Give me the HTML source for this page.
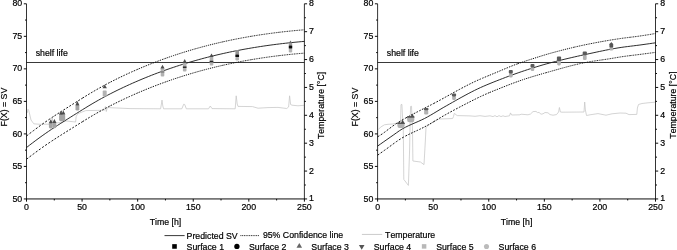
<!DOCTYPE html><html><head><meta charset="utf-8"><style>html,body{margin:0;padding:0;background:#fff;}body{width:677px;height:250px;overflow:hidden;position:relative;font-family:"Liberation Sans",sans-serif;}</style></head><body><svg width="677" height="250" viewBox="0 0 677 250" style="position:absolute;left:0;top:0;filter:grayscale(1);font-kerning:none;font-variant-ligatures:none" font-family="Liberation Sans, sans-serif">
<style>text{stroke:#000;stroke-width:0.2px;fill:#000}</style>
<rect width="677" height="250" fill="#fff"/>
<path d="M27.2,113.0 L28.0,109.3 L28.8,110.5 L29.6,114.0 L31.0,120.0 L33.8,123.8 L40.0,124.3 L48.0,124.2 L51.6,124.0 L52.2,118.0 L53.0,123.5 L60.0,122.5 L66.6,121.0 L73.8,121.8 L75.6,122.0 L76.2,116.4 L77.6,113.8 L82.0,112.0 L85.8,110.6 L97.8,110.4 L104.5,110.2 L105.4,106.5 L106.3,111.5 L107.3,107.5 L110.0,107.7 L130.0,108.6 L160.6,108.8 L161.4,104.0 L162.0,100.1 L162.8,106.0 L163.6,108.8 L181.8,108.8 L183.0,106.0 L183.6,104.3 L184.6,104.4 L185.3,106.0 L186.3,108.8 L208.5,108.8 L210.3,106.0 L212.0,108.6 L235.2,108.8 L236.2,95.8 L237.2,104.0 L238.0,106.4 L252.5,106.6 L258.0,108.2 L268.0,107.6 L278.0,107.4 L286.7,108.5 L288.6,107.0 L289.6,95.8 L290.6,104.5 L292.0,105.2 L298.0,105.8 L304.0,105.3" fill="none" stroke="#c6c6c6" stroke-width="0.75" stroke-linejoin="round"/>
<line x1="26.5" y1="62.5" x2="304.4" y2="62.5" stroke="#222" stroke-width="0.9"/>
<path d="M26.50,136.01 L28.84,134.19 L31.17,132.39 L33.51,130.62 L35.84,128.87 L38.18,127.14 L40.51,125.44 L42.85,123.77 L45.18,122.12 L47.52,120.50 L49.85,118.91 L52.19,117.34 L54.52,115.80" fill="none" stroke="#0a0a0a" stroke-width="0.95" stroke-dasharray="2.18 1.71"/><path d="M54.52,115.80 L56.86,114.28 L59.19,112.77 L61.53,111.28 L63.86,109.80 L66.20,108.33 L68.54,106.86 L70.87,105.39 L73.21,103.92 L75.54,102.46 L77.88,100.99 L80.21,99.53 L82.55,98.07" fill="none" stroke="#0a0a0a" stroke-width="0.95" stroke-dasharray="1.97 1.55"/><path d="M82.55,98.07 L84.88,96.62 L87.22,95.19 L89.55,93.77 L91.89,92.37 L94.22,91.00 L96.56,89.65 L98.89,88.32 L101.23,87.02 L103.56,85.74 L105.90,84.48 L108.24,83.25 L110.57,82.04" fill="none" stroke="#0a0a0a" stroke-width="0.95" stroke-dasharray="1.83 1.44"/><path d="M110.57,82.04 L112.91,80.85 L115.24,79.68 L117.58,78.53 L119.91,77.39 L122.25,76.28 L124.58,75.18 L126.92,74.09 L129.25,73.03 L131.59,71.97 L133.92,70.94 L136.26,69.91 L138.59,68.91" fill="none" stroke="#0a0a0a" stroke-width="0.95" stroke-dasharray="1.60 1.25"/><path d="M138.59,68.91 L140.93,67.92 L143.26,66.94 L145.60,65.98 L147.94,65.03 L150.27,64.10 L152.61,63.18 L154.94,62.28 L157.28,61.39 L159.61,60.51 L161.95,59.65 L164.28,58.81 L166.62,57.97" fill="none" stroke="#0a0a0a" stroke-width="0.95" stroke-dasharray="1.42 1.11"/><path d="M166.62,57.97 L168.95,57.15 L171.29,56.35 L173.62,55.56 L175.96,54.78 L178.29,54.01 L180.63,53.26 L182.96,52.52 L185.30,51.80 L187.64,51.08 L189.97,50.38 L192.31,49.70 L194.64,49.02" fill="none" stroke="#0a0a0a" stroke-width="0.95" stroke-dasharray="1.25 0.99"/><path d="M194.64,49.02 L196.98,48.36 L199.31,47.71 L201.65,47.07 L203.98,46.45 L206.32,45.84 L208.65,45.24 L210.99,44.65 L213.32,44.07 L215.66,43.51 L217.99,42.95 L220.33,42.41 L222.66,41.88" fill="none" stroke="#0a0a0a" stroke-width="0.95" stroke-dasharray="1.11 0.87"/><path d="M222.66,41.88 L225.00,41.36 L227.34,40.86 L229.67,40.36 L232.01,39.88 L234.34,39.40 L236.68,38.94 L239.01,38.49 L241.35,38.04 L243.68,37.61 L246.02,37.19 L248.35,36.78 L250.69,36.38" fill="none" stroke="#0a0a0a" stroke-width="0.95" stroke-dasharray="0.97 0.76"/><path d="M250.69,36.38 L253.02,35.99 L255.36,35.61 L257.69,35.24 L260.03,34.88 L262.36,34.53 L264.70,34.19 L267.04,33.86 L269.37,33.54 L271.71,33.22 L274.04,32.92 L276.38,32.63 L278.71,32.34" fill="none" stroke="#0a0a0a" stroke-width="0.95" stroke-dasharray="0.95 0.75"/><path d="M278.71,32.34 L281.05,32.07 L283.38,31.80 L285.72,31.54 L288.05,31.29 L290.39,31.05 L292.72,30.82 L295.06,30.59 L297.39,30.38 L299.73,30.17 L302.06,29.97 L304.40,29.78" fill="none" stroke="#0a0a0a" stroke-width="0.95" stroke-dasharray="0.95 0.75"/>
<path d="M26.50,159.24 L28.84,157.45 L31.17,155.67 L33.51,153.92 L35.84,152.18 L38.18,150.48 L40.51,148.80 L42.85,147.14 L45.18,145.51 L47.52,143.91 L49.85,142.33 L52.19,140.78 L54.52,139.25" fill="none" stroke="#0a0a0a" stroke-width="0.95" stroke-dasharray="2.16 1.70"/><path d="M54.52,139.25 L56.86,137.74 L59.19,136.25 L61.53,134.77 L63.86,133.30 L66.20,131.84 L68.54,130.38 L70.87,128.93 L73.21,127.47 L75.54,126.01 L77.88,124.55 L80.21,123.10 L82.55,121.65" fill="none" stroke="#0a0a0a" stroke-width="0.95" stroke-dasharray="1.96 1.54"/><path d="M82.55,121.65 L84.88,120.21 L87.22,118.78 L89.55,117.37 L91.89,115.98 L94.22,114.61 L96.56,113.26 L98.89,111.94 L101.23,110.64 L103.56,109.36 L105.90,108.11 L108.24,106.88 L110.57,105.67" fill="none" stroke="#0a0a0a" stroke-width="0.95" stroke-dasharray="1.83 1.44"/><path d="M110.57,105.67 L112.91,104.49 L115.24,103.32 L117.58,102.17 L119.91,101.03 L122.25,99.92 L124.58,98.82 L126.92,97.73 L129.25,96.66 L131.59,95.61 L133.92,94.57 L136.26,93.55 L138.59,92.54" fill="none" stroke="#0a0a0a" stroke-width="0.95" stroke-dasharray="1.60 1.25"/><path d="M138.59,92.54 L140.93,91.54 L143.26,90.57 L145.60,89.60 L147.94,88.65 L150.27,87.72 L152.61,86.79 L154.94,85.89 L157.28,84.99 L159.61,84.11 L161.95,83.25 L164.28,82.40 L166.62,81.56" fill="none" stroke="#0a0a0a" stroke-width="0.95" stroke-dasharray="1.42 1.12"/><path d="M166.62,81.56 L168.95,80.74 L171.29,79.93 L173.62,79.13 L175.96,78.34 L178.29,77.57 L180.63,76.82 L182.96,76.07 L185.30,75.34 L187.64,74.62 L189.97,73.92 L192.31,73.22 L194.64,72.54" fill="none" stroke="#0a0a0a" stroke-width="0.95" stroke-dasharray="1.26 0.99"/><path d="M194.64,72.54 L196.98,71.88 L199.31,71.22 L201.65,70.58 L203.98,69.95 L206.32,69.33 L208.65,68.72 L210.99,68.13 L213.32,67.55 L215.66,66.97 L217.99,66.42 L220.33,65.87 L222.66,65.33" fill="none" stroke="#0a0a0a" stroke-width="0.95" stroke-dasharray="1.11 0.87"/><path d="M222.66,65.33 L225.00,64.81 L227.34,64.29 L229.67,63.79 L232.01,63.30 L234.34,62.82 L236.68,62.35 L239.01,61.89 L241.35,61.45 L243.68,61.01 L246.02,60.59 L248.35,60.17 L250.69,59.77" fill="none" stroke="#0a0a0a" stroke-width="0.95" stroke-dasharray="0.98 0.77"/><path d="M250.69,59.77 L253.02,59.37 L255.36,58.99 L257.69,58.61 L260.03,58.25 L262.36,57.89 L264.70,57.55 L267.04,57.21 L269.37,56.89 L271.71,56.57 L274.04,56.27 L276.38,55.97 L278.71,55.69" fill="none" stroke="#0a0a0a" stroke-width="0.95" stroke-dasharray="0.95 0.75"/><path d="M278.71,55.69 L281.05,55.41 L283.38,55.14 L285.72,54.88 L288.05,54.63 L290.39,54.39 L292.72,54.15 L295.06,53.93 L297.39,53.71 L299.73,53.51 L302.06,53.31 L304.40,53.12" fill="none" stroke="#0a0a0a" stroke-width="0.95" stroke-dasharray="0.95 0.75"/>
<path d="M26.50,147.55 L29.62,145.12 L32.74,142.74 L35.87,140.39 L38.99,138.09 L42.11,135.84 L45.23,133.63 L48.36,131.48 L51.48,129.37 L54.60,127.30 L57.72,125.27 L60.85,123.28 L63.97,121.30 L67.09,119.33 L70.21,117.37 L73.34,115.42 L76.46,113.46 L79.58,111.50 L82.70,109.56 L85.83,107.63 L88.95,105.73 L92.07,103.86 L95.19,102.04 L98.32,100.25 L101.44,98.51 L104.56,96.82 L107.68,95.16 L110.81,93.55 L113.93,91.97 L117.05,90.42 L120.17,88.91 L123.30,87.43 L126.42,85.97 L129.54,84.55 L132.66,83.15 L135.79,81.79 L138.91,80.44 L142.03,79.13 L145.15,77.84 L148.28,76.58 L151.40,75.34 L154.52,74.13 L157.64,72.95 L160.77,71.79 L163.89,70.65 L167.01,69.54 L170.13,68.46 L173.26,67.40 L176.38,66.36 L179.50,65.35 L182.62,64.36 L185.75,63.39 L188.87,62.45 L191.99,61.52 L195.11,60.63 L198.24,59.75 L201.36,58.90 L204.48,58.06 L207.60,57.25 L210.73,56.46 L213.85,55.69 L216.97,54.94 L220.09,54.22 L223.22,53.51 L226.34,52.82 L229.46,52.15 L232.58,51.51 L235.71,50.88 L238.83,50.27 L241.95,49.67 L245.07,49.10 L248.20,48.55 L251.32,48.01 L254.44,47.49 L257.56,46.99 L260.69,46.50 L263.81,46.04 L266.93,45.58 L270.05,45.15 L273.18,44.73 L276.30,44.33 L279.42,43.94 L282.54,43.57 L285.67,43.22 L288.79,42.87 L291.91,42.55 L295.03,42.24 L298.16,41.94 L301.28,41.65 L304.40,41.38" fill="none" stroke="#222" stroke-width="0.95"/>
<rect x="48.90" y="122.90" width="3.80" height="5.50" fill="#a4a4a4" rx="1.4"/><path d="M48.70,123.20 L52.90,123.20 L50.80,119.20Z" fill="#4c4c4c"/>
<rect x="52.50" y="122.70" width="3.80" height="5.50" fill="#a4a4a4" rx="1.4"/><path d="M52.30,123.00 L56.50,123.00 L54.40,119.00Z" fill="#4c4c4c"/>
<rect x="59.10" y="114.50" width="3.80" height="6.70" fill="#a4a4a4" rx="1.4"/><path d="M58.90,114.80 L63.10,114.80 L61.00,110.80Z" fill="#4c4c4c"/>
<rect x="61.40" y="114.30" width="3.80" height="6.70" fill="#a4a4a4" rx="1.4"/><path d="M61.20,114.60 L65.40,114.60 L63.30,110.60Z" fill="#4c4c4c"/>
<rect x="75.50" y="105.20" width="3.80" height="5.40" fill="#a4a4a4" rx="1.4"/><path d="M75.30,105.50 L79.50,105.50 L77.40,101.00Z" fill="#4c4c4c"/>
<rect x="102.70" y="90.60" width="4.00" height="6.00" fill="#b2b2b2" rx="0.8"/><path d="M102.50,88.20 L106.90,88.20 L104.70,84.40Z" fill="#4c4c4c"/>
<rect x="160.70" y="68.20" width="3.60" height="8.30" fill="#b2b2b2" rx="1.0"/><rect x="160.70" y="71.30" width="3.60" height="1.30" fill="#7a7a7a" rx="0"/><path d="M160.40,68.50 L164.60,68.50 L162.50,64.80Z" fill="#4c4c4c"/>
<rect x="182.90" y="62.70" width="3.60" height="8.80" fill="#b2b2b2" rx="1.0"/><rect x="182.90" y="66.50" width="3.60" height="1.40" fill="#222" rx="0"/><path d="M182.60,63.00 L186.80,63.00 L184.70,59.00Z" fill="#4c4c4c"/>
<rect x="209.70" y="56.70" width="3.60" height="8.80" fill="#b2b2b2" rx="1.0"/><rect x="209.70" y="60.80" width="3.60" height="1.50" fill="#222" rx="0"/><path d="M209.40,57.00 L213.60,57.00 L211.50,53.50Z" fill="#4c4c4c"/>
<rect x="235.40" y="56.70" width="3.60" height="3.80" fill="#b2b2b2" rx="1.2"/><rect x="235.40" y="50.00" width="3.60" height="4.80" fill="#939393" rx="1.4"/><rect x="235.35" y="54.50" width="3.70" height="2.50" fill="#0a0a0a" rx="0"/>
<rect x="288.80" y="48.20" width="3.40" height="4.20" fill="#b2b2b2" rx="1.2"/><rect x="288.80" y="42.30" width="3.40" height="3.50" fill="#9a9a9a" rx="1.4"/><path d="M288.90,42.90 L292.10,42.90 L290.50,40.50Z" fill="#6a6a6a"/><rect x="288.75" y="45.50" width="3.50" height="3.00" fill="#0a0a0a" rx="0"/>
<path d="M26.5,3.8 V198.95 M304.4,198.95 V3.8" fill="none" stroke="#000" stroke-width="0.8"/>
<path d="M26.1,198.95 H304.79999999999995 M23.80,198.95 H26.5 M25.00,182.69 H26.5 M23.80,166.42 H26.5 M25.00,150.16 H26.5 M23.80,133.90 H26.5 M25.00,117.64 H26.5 M23.80,101.38 H26.5 M25.00,85.11 H26.5 M23.80,68.85 H26.5 M25.00,52.59 H26.5 M23.80,36.33 H26.5 M25.00,20.06 H26.5 M23.80,3.80 H26.5 M26.50,198.95 v2.7 M54.29,198.95 v1.5 M82.08,198.95 v2.7 M109.87,198.95 v1.5 M137.66,198.95 v2.7 M165.45,198.95 v1.5 M193.24,198.95 v2.7 M221.03,198.95 v1.5 M248.82,198.95 v2.7 M276.61,198.95 v1.5 M304.40,198.95 v2.7 M304.4,198.95 h2.7 M304.4,185.01 h1.5 M304.4,171.07 h2.7 M304.4,157.13 h1.5 M304.4,143.19 h2.7 M304.4,129.25 h1.5 M304.4,115.31 h2.7 M304.4,101.38 h1.5 M304.4,87.44 h2.7 M304.4,73.50 h1.5 M304.4,59.56 h2.7 M304.4,45.62 h1.5 M304.4,31.68 h2.7 M304.4,17.74 h1.5 M304.4,3.80 h2.7" fill="none" stroke="#000" stroke-width="0.95"/>
<text x="22.20" y="201.55" font-size="8.8" text-anchor="end">50</text>
<text x="22.20" y="169.02" font-size="8.8" text-anchor="end">55</text>
<text x="22.20" y="136.50" font-size="8.8" text-anchor="end">60</text>
<text x="22.20" y="103.97" font-size="8.8" text-anchor="end">65</text>
<text x="22.20" y="71.45" font-size="8.8" text-anchor="end">70</text>
<text x="22.20" y="38.93" font-size="8.8" text-anchor="end">75</text>
<text x="22.20" y="6.40" font-size="8.8" text-anchor="end">80</text>
<text x="26.50" y="210.1" font-size="8.8" text-anchor="middle">0</text>
<text x="82.08" y="210.1" font-size="8.8" text-anchor="middle">50</text>
<text x="137.66" y="210.1" font-size="8.8" text-anchor="middle">100</text>
<text x="193.24" y="210.1" font-size="8.8" text-anchor="middle">150</text>
<text x="248.82" y="210.1" font-size="8.8" text-anchor="middle">200</text>
<text x="304.40" y="210.1" font-size="8.8" text-anchor="middle">250</text>
<text x="309.10" y="201.45" font-size="8.8">1</text>
<text x="309.10" y="173.57" font-size="8.8">2</text>
<text x="309.10" y="145.69" font-size="8.8">3</text>
<text x="309.10" y="117.81" font-size="8.8">4</text>
<text x="309.10" y="89.94" font-size="8.8">5</text>
<text x="309.10" y="62.06" font-size="8.8">6</text>
<text x="309.10" y="34.18" font-size="8.8">7</text>
<text x="309.10" y="6.30" font-size="8.8">8</text>
<text x="165.45" y="224.6" font-size="8.75" text-anchor="middle">Time [h]</text>
<text transform="translate(6.80,107.1) rotate(-90)" font-size="8.75" text-anchor="middle">F(X) = SV</text>
<text transform="translate(324.00,105.4) rotate(-90)" font-size="8.75" text-anchor="middle">Temperature [°C]</text>
<text x="35.70" y="55.5" font-size="8.75">shelf life</text>
<path d="M378.4,129.5 L380.5,127.2 L384.4,124.8 L388.0,124.3 L392.8,124.0 L396.0,123.4 L399.0,122.6 L400.6,122.0 L401.0,104.6 L401.9,104.4 L402.6,118.0 L403.3,130.0 L403.8,179.4 L408.4,185.4 L409.6,150.0 L410.2,118.0 L410.6,106.4 L411.5,106.2 L412.0,118.0 L412.5,130.0 L412.9,161.0 L420.4,162.0 L424.0,164.6 L425.4,140.0 L426.0,127.5 L428.0,125.6 L432.0,122.8 L436.0,120.4 L439.0,119.0 L446.0,118.8 L452.6,118.5 L453.5,116.5 L454.3,113.4 L457.2,115.6 L470.0,115.9 L475.0,116.3 L480.0,115.7 L485.0,116.4 L490.0,115.8 L493.0,116.6 L495.0,115.6 L497.0,116.8 L499.0,115.6 L501.0,116.6 L503.0,115.8 L505.0,116.5 L509.5,115.8 L510.5,112.9 L511.6,115.0 L520.0,114.8 L521.0,114.2 L528.0,114.8 L530.5,114.0 L533.0,111.6 L536.0,111.4 L537.5,112.6 L539.0,112.4 L541.0,114.2 L543.0,113.8 L545.0,112.5 L548.0,112.8 L550.0,114.6 L553.0,115.2 L556.5,114.6 L558.6,112.0 L559.4,107.5 L560.4,112.0 L562.0,112.2 L584.0,112.0 L584.7,102.0 L585.4,110.0 L586.5,115.5 L590.0,114.8 L598.0,113.6 L602.0,114.4 L606.0,115.2 L612.0,113.8 L620.0,113.0 L626.0,113.2 L629.0,114.6 L636.8,114.4 L637.4,108.0 L638.5,104.5 L642.0,103.5 L648.0,102.8 L655.0,102.2" fill="none" stroke="#c6c6c6" stroke-width="0.75" stroke-linejoin="round"/>
<line x1="377.6" y1="62.5" x2="655.5" y2="62.5" stroke="#222" stroke-width="0.9"/>
<path d="M377.60,136.80 L379.94,135.40 L382.27,133.89 L384.61,132.22 L386.94,130.43 L389.28,128.64 L391.61,126.91 L393.95,125.21 L396.28,123.62 L398.62,122.14 L400.95,120.75 L403.29,119.40 L405.62,118.09" fill="none" stroke="#0a0a0a" stroke-width="0.95" stroke-dasharray="2.05 1.61"/><path d="M405.62,118.09 L407.96,116.80 L410.29,115.54 L412.63,114.30 L414.96,113.08 L417.30,111.88 L419.64,110.68 L421.97,109.49 L424.31,108.30 L426.64,107.12 L428.98,105.92 L431.31,104.72 L433.65,103.51" fill="none" stroke="#0a0a0a" stroke-width="0.95" stroke-dasharray="1.72 1.35"/><path d="M433.65,103.51 L435.98,102.28 L438.32,101.03 L440.65,99.77 L442.99,98.49 L445.32,97.20 L447.66,95.91 L449.99,94.62 L452.33,93.32 L454.66,92.03 L457.00,90.75 L459.34,89.48 L461.67,88.22" fill="none" stroke="#0a0a0a" stroke-width="0.95" stroke-dasharray="1.77 1.39"/><path d="M461.67,88.22 L464.01,86.99 L466.34,85.77 L468.68,84.58 L471.01,83.41 L473.35,82.28 L475.68,81.18 L478.02,80.12 L480.35,79.10 L482.69,78.10 L485.02,77.12 L487.36,76.15 L489.69,75.19" fill="none" stroke="#0a0a0a" stroke-width="0.95" stroke-dasharray="1.59 1.25"/><path d="M489.69,75.19 L492.03,74.23 L494.36,73.26 L496.70,72.29 L499.04,71.30 L501.37,70.31 L503.71,69.32 L506.04,68.34 L508.38,67.37 L510.71,66.42 L513.05,65.50 L515.38,64.60 L517.72,63.74" fill="none" stroke="#0a0a0a" stroke-width="0.95" stroke-dasharray="1.46 1.15"/><path d="M517.72,63.74 L520.05,62.91 L522.39,62.10 L524.72,61.32 L527.06,60.55 L529.39,59.79 L531.73,59.04 L534.06,58.30 L536.40,57.55 L538.74,56.81 L541.07,56.07 L543.41,55.34 L545.74,54.63" fill="none" stroke="#0a0a0a" stroke-width="0.95" stroke-dasharray="1.27 1.00"/><path d="M545.74,54.63 L548.08,53.94 L550.41,53.29 L552.75,52.65 L555.08,52.02 L557.42,51.39 L559.75,50.78 L562.09,50.18 L564.42,49.58 L566.76,49.00 L569.09,48.42 L571.43,47.86 L573.76,47.30" fill="none" stroke="#0a0a0a" stroke-width="0.95" stroke-dasharray="1.12 0.88"/><path d="M573.76,47.30 L576.10,46.76 L578.44,46.23 L580.77,45.72 L583.11,45.21 L585.44,44.72 L587.78,44.24 L590.11,43.77 L592.45,43.32 L594.78,42.87 L597.12,42.43 L599.45,42.00 L601.79,41.57" fill="none" stroke="#0a0a0a" stroke-width="0.95" stroke-dasharray="0.99 0.78"/><path d="M601.79,41.57 L604.12,41.16 L606.46,40.76 L608.79,40.36 L611.13,39.98 L613.46,39.60 L615.80,39.24 L618.14,38.88 L620.47,38.53 L622.81,38.20 L625.14,37.90 L627.48,37.60 L629.81,37.32" fill="none" stroke="#0a0a0a" stroke-width="0.95" stroke-dasharray="0.95 0.75"/><path d="M629.81,37.32 L632.15,37.03 L634.48,36.74 L636.82,36.44 L639.15,36.12 L641.49,35.78 L643.82,35.43 L646.16,35.06 L648.49,34.69 L650.83,34.30 L653.16,33.90 L655.50,33.50" fill="none" stroke="#0a0a0a" stroke-width="0.95" stroke-dasharray="0.95 0.75"/>
<path d="M377.60,155.20 L379.94,153.54 L382.27,151.88 L384.61,150.23 L386.94,148.57 L389.28,146.86 L391.61,145.13 L393.95,143.41 L396.28,141.73 L398.62,140.13 L400.95,138.63 L403.29,137.26 L405.62,135.99" fill="none" stroke="#0a0a0a" stroke-width="0.95" stroke-dasharray="2.09 1.65"/><path d="M405.62,135.99 L407.96,134.80 L410.29,133.67 L412.63,132.57 L414.96,131.50 L417.30,130.43 L419.64,129.34 L421.97,128.21 L424.31,127.03 L426.64,125.78 L428.98,124.47 L431.31,123.11 L433.65,121.72" fill="none" stroke="#0a0a0a" stroke-width="0.95" stroke-dasharray="1.69 1.33"/><path d="M433.65,121.72 L435.98,120.32 L438.32,118.91 L440.65,117.51 L442.99,116.15 L445.32,114.82 L447.66,113.52 L449.99,112.24 L452.33,110.98 L454.66,109.73 L457.00,108.50 L459.34,107.28 L461.67,106.06" fill="none" stroke="#0a0a0a" stroke-width="0.95" stroke-dasharray="1.80 1.42"/><path d="M461.67,106.06 L464.01,104.84 L466.34,103.63 L468.68,102.42 L471.01,101.23 L473.35,100.06 L475.68,98.90 L478.02,97.76 L480.35,96.64 L482.69,95.55 L485.02,94.49 L487.36,93.46 L489.69,92.47" fill="none" stroke="#0a0a0a" stroke-width="0.95" stroke-dasharray="1.63 1.28"/><path d="M489.69,92.47 L492.03,91.50 L494.36,90.55 L496.70,89.62 L499.04,88.69 L501.37,87.75 L503.71,86.83 L506.04,85.91 L508.38,85.00 L510.71,84.10 L513.05,83.22 L515.38,82.36 L517.72,81.51" fill="none" stroke="#0a0a0a" stroke-width="0.95" stroke-dasharray="1.42 1.11"/><path d="M517.72,81.51 L520.05,80.68 L522.39,79.87 L524.72,79.09 L527.06,78.34 L529.39,77.60 L531.73,76.87 L534.06,76.17 L536.40,75.47 L538.74,74.79 L541.07,74.11 L543.41,73.45 L545.74,72.79" fill="none" stroke="#0a0a0a" stroke-width="0.95" stroke-dasharray="1.24 0.97"/><path d="M545.74,72.79 L548.08,72.13 L550.41,71.47 L552.75,70.80 L555.08,70.14 L557.42,69.48 L559.75,68.82 L562.09,68.17 L564.42,67.53 L566.76,66.89 L569.09,66.28 L571.43,65.67 L573.76,65.09" fill="none" stroke="#0a0a0a" stroke-width="0.95" stroke-dasharray="1.15 0.91"/><path d="M573.76,65.09 L576.10,64.52 L578.44,63.98 L580.77,63.46 L583.11,62.97 L585.44,62.51 L587.78,62.07 L590.11,61.67 L592.45,61.29 L594.78,60.94 L597.12,60.59 L599.45,60.26 L601.79,59.93" fill="none" stroke="#0a0a0a" stroke-width="0.95" stroke-dasharray="0.95 0.75"/><path d="M601.79,59.93 L604.12,59.59 L606.46,59.25 L608.79,58.89 L611.13,58.52 L613.46,58.12 L615.80,57.71 L618.14,57.31 L620.47,56.93 L622.81,56.58 L625.14,56.26 L627.48,55.95 L629.81,55.66" fill="none" stroke="#0a0a0a" stroke-width="0.95" stroke-dasharray="0.95 0.75"/><path d="M629.81,55.66 L632.15,55.37 L634.48,55.09 L636.82,54.80 L639.15,54.51 L641.49,54.21 L643.82,53.91 L646.16,53.61 L648.49,53.31 L650.83,53.00 L653.16,52.70 L655.50,52.40" fill="none" stroke="#0a0a0a" stroke-width="0.95" stroke-dasharray="0.95 0.75"/>
<path d="M377.60,146.10 L380.72,143.89 L383.84,141.69 L386.97,139.50 L390.09,137.32 L393.21,135.15 L396.33,132.93 L399.46,130.71 L402.58,128.77 L405.70,127.10 L408.82,125.59 L411.95,124.18 L415.07,122.82 L418.19,121.47 L421.31,120.06 L424.44,118.55 L427.56,116.89 L430.68,115.12 L433.80,113.27 L436.93,111.38 L440.05,109.49 L443.17,107.65 L446.29,105.87 L449.42,104.10 L452.54,102.33 L455.66,100.56 L458.78,98.80 L461.91,97.07 L465.03,95.36 L468.15,93.69 L471.27,92.06 L474.40,90.48 L477.52,88.96 L480.64,87.51 L483.76,86.13 L486.89,84.79 L490.01,83.50 L493.13,82.24 L496.25,81.00 L499.38,79.78 L502.50,78.58 L505.62,77.39 L508.74,76.23 L511.87,75.08 L514.99,73.95 L518.11,72.85 L521.23,71.77 L524.36,70.71 L527.48,69.68 L530.60,68.66 L533.72,67.67 L536.85,66.69 L539.97,65.75 L543.09,64.83 L546.21,63.95 L549.34,63.11 L552.46,62.28 L555.58,61.47 L558.70,60.68 L561.83,59.91 L564.95,59.15 L568.07,58.41 L571.19,57.68 L574.32,56.96 L577.44,56.25 L580.56,55.55 L583.68,54.87 L586.81,54.19 L589.93,53.52 L593.05,52.85 L596.17,52.18 L599.30,51.51 L602.42,50.86 L605.54,50.22 L608.66,49.60 L611.79,49.00 L614.91,48.44 L618.03,47.91 L621.15,47.43 L624.28,46.98 L627.40,46.58 L630.52,46.19 L633.64,45.81 L636.77,45.42 L639.89,45.02 L643.01,44.59 L646.13,44.15 L649.26,43.71 L652.38,43.26 L655.50,42.80" fill="none" stroke="#222" stroke-width="0.95"/>
<path d="M397.40,123.50 H404.60 V125.70 Q404.60,127.90 402.40,127.90 H399.60 Q397.40,127.90 397.40,125.70Z" fill="#b2b2b2"/><path d="M397.20,124.00 L401.60,124.00 L399.40,121.60Z" fill="#555"/><path d="M400.40,124.00 L404.80,124.00 L402.60,119.60Z" fill="#4a4a4a"/><rect x="397.40" y="122.70" width="7.20" height="1.30" fill="#555" rx="0"/>
<path d="M407.10,116.90 H414.30 V120.00 Q414.30,122.20 412.10,122.20 H409.30 Q407.10,122.20 407.10,120.00Z" fill="#b2b2b2"/><path d="M406.90,117.40 L411.10,117.40 L409.00,116.00Z" fill="#555"/><path d="M410.30,117.40 L414.50,117.40 L412.40,113.80Z" fill="#4a4a4a"/><rect x="407.10" y="116.10" width="7.20" height="1.30" fill="#555" rx="0"/>
<rect x="424.15" y="109.80" width="4.10" height="4.80" fill="#b2b2b2" rx="1.3"/><rect x="423.90" y="107.90" width="4.60" height="2.40" fill="#5a5a5a" rx="1.0"/>
<rect x="452.15" y="96.00" width="3.70" height="4.00" fill="#b2b2b2" rx="1.3"/><rect x="451.90" y="93.50" width="4.20" height="3.00" fill="#5a5a5a" rx="1.0"/>
<rect x="509.05" y="73.00" width="3.50" height="4.50" fill="#b2b2b2" rx="1.3"/><rect x="508.80" y="70.00" width="4.00" height="3.50" fill="#5a5a5a" rx="1.0"/>
<rect x="530.75" y="67.00" width="3.50" height="4.00" fill="#b2b2b2" rx="1.3"/><rect x="530.50" y="64.00" width="4.00" height="3.50" fill="#5a5a5a" rx="1.0"/>
<rect x="557.15" y="60.50" width="3.70" height="4.90" fill="#b2b2b2" rx="1.3"/><rect x="556.90" y="56.40" width="4.20" height="4.60" fill="#5a5a5a" rx="1.0"/>
<rect x="582.95" y="54.70" width="3.70" height="5.30" fill="#b2b2b2" rx="1.3"/><rect x="582.70" y="51.60" width="4.20" height="3.60" fill="#5a5a5a" rx="1.0"/>
<rect x="609.50" y="47.00" width="3.60" height="3.50" fill="#b2b2b2" rx="1.0"/><rect x="609.40" y="43.60" width="3.80" height="3.90" fill="#555" rx="0.8"/><path d="M609.40,44.60 L613.20,44.60 L611.30,42.00Z" fill="#555"/>
<path d="M377.6,3.8 V198.95 M655.5,198.95 V3.8" fill="none" stroke="#000" stroke-width="0.8"/>
<path d="M377.20000000000005,198.95 H655.9 M374.90,198.95 H377.6 M376.10,182.69 H377.6 M374.90,166.42 H377.6 M376.10,150.16 H377.6 M374.90,133.90 H377.6 M376.10,117.64 H377.6 M374.90,101.38 H377.6 M376.10,85.11 H377.6 M374.90,68.85 H377.6 M376.10,52.59 H377.6 M374.90,36.33 H377.6 M376.10,20.06 H377.6 M374.90,3.80 H377.6 M377.60,198.95 v2.7 M405.39,198.95 v1.5 M433.18,198.95 v2.7 M460.97,198.95 v1.5 M488.76,198.95 v2.7 M516.55,198.95 v1.5 M544.34,198.95 v2.7 M572.13,198.95 v1.5 M599.92,198.95 v2.7 M627.71,198.95 v1.5 M655.50,198.95 v2.7 M655.5,198.95 h2.7 M655.5,185.01 h1.5 M655.5,171.07 h2.7 M655.5,157.13 h1.5 M655.5,143.19 h2.7 M655.5,129.25 h1.5 M655.5,115.31 h2.7 M655.5,101.38 h1.5 M655.5,87.44 h2.7 M655.5,73.50 h1.5 M655.5,59.56 h2.7 M655.5,45.62 h1.5 M655.5,31.68 h2.7 M655.5,17.74 h1.5 M655.5,3.80 h2.7" fill="none" stroke="#000" stroke-width="0.95"/>
<text x="373.30" y="201.55" font-size="8.8" text-anchor="end">50</text>
<text x="373.30" y="169.02" font-size="8.8" text-anchor="end">55</text>
<text x="373.30" y="136.50" font-size="8.8" text-anchor="end">60</text>
<text x="373.30" y="103.97" font-size="8.8" text-anchor="end">65</text>
<text x="373.30" y="71.45" font-size="8.8" text-anchor="end">70</text>
<text x="373.30" y="38.93" font-size="8.8" text-anchor="end">75</text>
<text x="373.30" y="6.40" font-size="8.8" text-anchor="end">80</text>
<text x="377.60" y="210.1" font-size="8.8" text-anchor="middle">0</text>
<text x="433.18" y="210.1" font-size="8.8" text-anchor="middle">50</text>
<text x="488.76" y="210.1" font-size="8.8" text-anchor="middle">100</text>
<text x="544.34" y="210.1" font-size="8.8" text-anchor="middle">150</text>
<text x="599.92" y="210.1" font-size="8.8" text-anchor="middle">200</text>
<text x="655.50" y="210.1" font-size="8.8" text-anchor="middle">250</text>
<text x="660.20" y="201.45" font-size="8.8">1</text>
<text x="660.20" y="173.57" font-size="8.8">2</text>
<text x="660.20" y="145.69" font-size="8.8">3</text>
<text x="660.20" y="117.81" font-size="8.8">4</text>
<text x="660.20" y="89.94" font-size="8.8">5</text>
<text x="660.20" y="62.06" font-size="8.8">6</text>
<text x="660.20" y="34.18" font-size="8.8">7</text>
<text x="660.20" y="6.30" font-size="8.8">8</text>
<text x="516.55" y="224.6" font-size="8.75" text-anchor="middle">Time [h]</text>
<text transform="translate(357.90,107.1) rotate(-90)" font-size="8.75" text-anchor="middle">F(X) = SV</text>
<text transform="translate(675.80,105.1) rotate(-90)" font-size="8.75" text-anchor="middle">Temperature [°C]</text>
<text x="386.80" y="55.5" font-size="8.75">shelf life</text>
<line x1="164.5" y1="235.6" x2="184.6" y2="235.6" stroke="#222" stroke-width="0.9"/>
<text x="186.6" y="238.65" font-size="8.75">Predicted SV</text>
<line x1="240.4" y1="235.6" x2="259.2" y2="235.6" stroke="#111" stroke-width="0.9" stroke-dasharray="1.0 0.75"/>
<text x="262.9" y="238.45" font-size="8.75">95% Confidence line</text>
<line x1="361.9" y1="234.45" x2="382.2" y2="234.45" stroke="#c9c9c9" stroke-width="0.95"/>
<text x="385.1" y="237.75" font-size="8.75">Temperature</text>
<rect x="172.20" y="244.15" width="4.6" height="4.6" fill="#000"/>
<circle cx="236.90" cy="246.45" r="2.65" fill="#000"/>
<path d="M296.50,247.7 L302.10,247.7 L299.30,243.1Z" fill="#666"/>
<path d="M358.90,245.1 L364.50,245.1 L361.70,249.7Z" fill="#555"/>
<rect x="421.85" y="244.15" width="4.5" height="4.5" fill="#b8b8b8"/>
<circle cx="486.50" cy="246.45" r="2.55" fill="#bbb"/>
<text x="186.55" y="249.65" font-size="8.75">Surface 1</text>
<text x="248.95" y="249.65" font-size="8.75">Surface 2</text>
<text x="311.35" y="249.65" font-size="8.75">Surface 3</text>
<text x="373.75" y="249.65" font-size="8.75">Surface 4</text>
<text x="436.15" y="249.65" font-size="8.75">Surface 5</text>
<text x="498.55" y="249.65" font-size="8.75">Surface 6</text>
</svg></body></html>
